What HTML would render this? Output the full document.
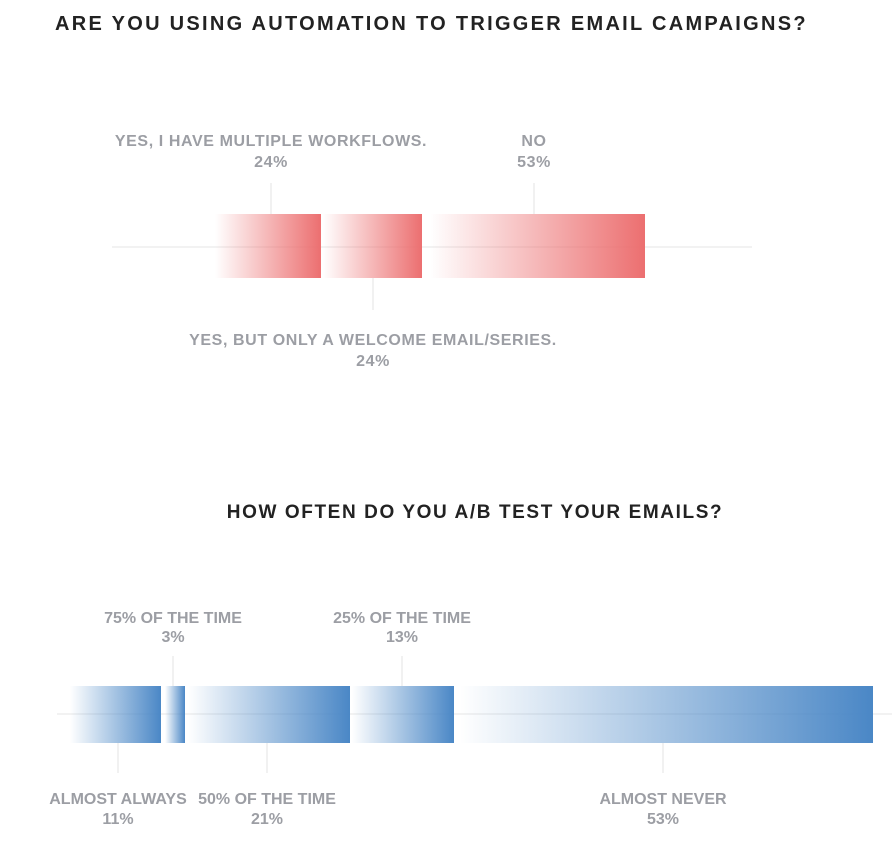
<!DOCTYPE html>
<html><head><meta charset="utf-8"><style>
body{margin:0;background:#fff;width:892px;height:854px;overflow:hidden}
svg{display:block}
text{font-family:"Liberation Sans",Arial,sans-serif;font-weight:bold}
.t{fill:#222;font-size:19px;letter-spacing:1.6px}
.t1{fill:#222;font-size:20px;letter-spacing:2.4px}
.l{fill:#9c9ea4;font-size:16px;text-anchor:middle}
.l1{fill:#9c9ea4;font-size:16px;text-anchor:middle;letter-spacing:0.6px}
</style></head><body>
<svg width="892" height="854" viewBox="0 0 892 854">
<defs>
<linearGradient id="r" x1="0" x2="1" y1="0" y2="0"><stop offset="0" stop-color="#ec6f70" stop-opacity="0"/><stop offset="1" stop-color="#ec6f70"/></linearGradient>
<linearGradient id="b" x1="0" x2="1" y1="0" y2="0"><stop offset="0" stop-color="#4a87c6" stop-opacity="0"/><stop offset="1" stop-color="#4a87c6"/></linearGradient>
</defs>
<text class="t1" x="55" y="30" textLength="753" lengthAdjust="spacing">ARE YOU USING AUTOMATION TO TRIGGER EMAIL CAMPAIGNS?</text>
<line x1="112" y1="247" x2="752" y2="247" stroke="#e6e6e6"/>
<line x1="271" y1="183" x2="271" y2="214" stroke="#e3e3e3"/>
<line x1="534" y1="183" x2="534" y2="214" stroke="#e3e3e3"/>
<line x1="373" y1="278" x2="373" y2="310" stroke="#e3e3e3"/>
<rect x="215" y="214" width="106" height="64" fill="url(#r)"/>
<rect x="323" y="214" width="99" height="64" fill="url(#r)"/>
<rect x="430" y="214" width="215" height="64" fill="url(#r)"/>
<text class="l1" x="271" y="146">YES, I HAVE MULTIPLE WORKFLOWS.</text>
<text class="l1" x="271" y="167">24%</text>
<text class="l1" x="534" y="146">NO</text>
<text class="l1" x="534" y="167">53%</text>
<text class="l1" x="373" y="345">YES, BUT ONLY A WELCOME EMAIL/SERIES.</text>
<text class="l1" x="373" y="366">24%</text>

<text class="t" x="475" y="518" text-anchor="middle">HOW OFTEN DO YOU A/B TEST YOUR EMAILS?</text>
<line x1="57" y1="714" x2="892" y2="714" stroke="#e6e6e6"/>
<line x1="173" y1="656" x2="173" y2="686" stroke="#e3e3e3"/>
<line x1="402" y1="656" x2="402" y2="686" stroke="#e3e3e3"/>
<line x1="118" y1="743" x2="118" y2="773" stroke="#e3e3e3"/>
<line x1="267" y1="743" x2="267" y2="773" stroke="#e3e3e3"/>
<line x1="663" y1="743" x2="663" y2="773" stroke="#e3e3e3"/>
<rect x="70" y="686" width="91" height="57" fill="url(#b)"/>
<rect x="165" y="686" width="20" height="57" fill="url(#b)"/>
<rect x="188" y="686" width="162" height="57" fill="url(#b)"/>
<rect x="352" y="686" width="102" height="57" fill="url(#b)"/>
<rect x="460" y="686" width="413" height="57" fill="url(#b)"/>
<text class="l" x="173" y="623">75% OF THE TIME</text>
<text class="l" x="173" y="642">3%</text>
<text class="l" x="402" y="623">25% OF THE TIME</text>
<text class="l" x="402" y="642">13%</text>
<text class="l" x="118" y="804">ALMOST ALWAYS</text>
<text class="l" x="118" y="824">11%</text>
<text class="l" x="267" y="804">50% OF THE TIME</text>
<text class="l" x="267" y="824">21%</text>
<text class="l" x="663" y="804">ALMOST NEVER</text>
<text class="l" x="663" y="824">53%</text>
</svg>
</body></html>
